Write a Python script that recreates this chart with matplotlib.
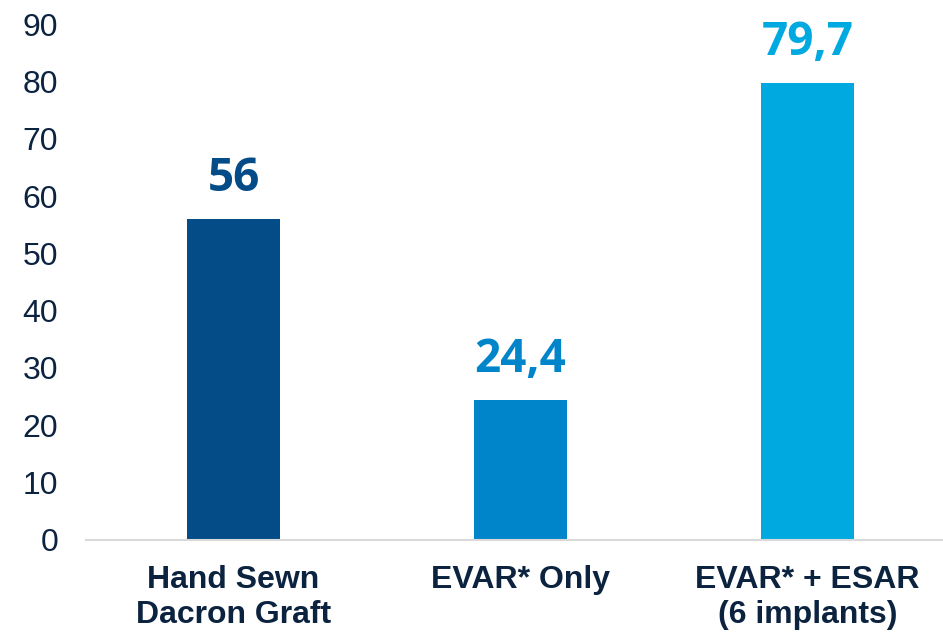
import matplotlib.pyplot as plt

categories = ["Hand Sewn\nDacron Graft", "EVAR* Only", "EVAR* + ESAR\n(6 implants)"]
values = [56, 24.4, 79.7]
value_labels = ["56", "24,4", "79,7"]
bar_colors = ["#034C87", "#0085CA", "#00A9E0"]
y_ticks = [0, 10, 20, 30, 40, 50, 60, 70, 80, 90]

TEXT_COLOR = "#0C2340"

fig = plt.figure(figsize=(9.43, 6.33), dpi=100)
ax = fig.add_axes([0.0912, 0.147, 0.9088, 0.815])

x = range(len(categories))
bars = ax.bar(x, values, width=0.324, color=bar_colors, zorder=2)

for bar, label, color in zip(bars, value_labels, bar_colors):
    ax.annotate(
        label,
        (bar.get_x() + bar.get_width() / 2, bar.get_height()),
        xytext=(0, 12),
        textcoords="offset points",
        ha="center",
        va="bottom",
        fontsize=33,
        fontweight="bold",
        family="Open Sans",
        color=color,
    )

ax.set_xlim(-0.514, 2.472)
ax.set_ylim(0, 90)
ax.set_yticks(y_ticks)
ax.set_xticks(list(x))
ax.set_xticklabels(categories, fontsize=23, fontweight="bold",
                   family="Liberation Sans", color=TEXT_COLOR, linespacing=1.2)
for t in ax.get_yticklabels():
    t.set_family("Liberation Sans")
    t.set_fontsize(23)
    t.set_color(TEXT_COLOR)

ax.tick_params(axis="y", length=0, pad=20)
ax.tick_params(axis="x", length=0, pad=18)

for side in ["left", "right", "top"]:
    ax.spines[side].set_visible(False)
ax.spines["bottom"].set_color("#D9D9D9")
ax.spines["bottom"].set_linewidth(1.5)

fig.savefig("out.png", dpi=100)
